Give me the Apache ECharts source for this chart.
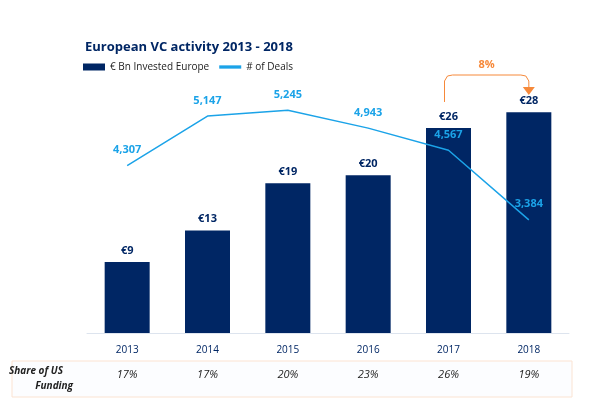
<!DOCTYPE html>
<html><head><meta charset="utf-8">
<script src="https://cdn.jsdelivr.net/npm/echarts@6/dist/echarts.min.js"></script>
<style>html,body{margin:0;padding:0;background:#fff}#chart{width:597px;height:408px}</style>
</head><body><div id="chart"></div>
<script>
var years = ['2013', '2014', '2015', '2016', '2017', '2018'];
var invested = [9, 13, 19, 20, 26, 28];
var deals = [4307, 5147, 5245, 4943, 4567, 3384];
var usShare = ['17%', '17%', '20%', '23%', '26%', '19%'];
var growthLabel = '8%';

var navy = '#002664';
var blue = '#1ba3e8';
var orange = '#f6893a';
var font = 'Open Sans';
var myChart = echarts.init(document.getElementById('chart'));

var option = {
    animation: false,
    title: {
        text: 'European VC activity 2013 - 2018',
        left: 80, top: 36,
        textStyle: {color: navy, fontSize: 13, fontWeight: 'bold', fontFamily: font}
    },
    legend: {
        left: 78, top: 57, itemGap: 10, itemWidth: 22, itemHeight: 7,
        textStyle: {color: '#222', fontSize: 10, fontFamily: font},
        data: [{name: '€ Bn Invested Europe', icon: 'rect'}, {name: '# of Deals', icon: 'path://M0,0H10V1.5H0Z'}]
    },
    grid: {left: 87, right: 28, top: 57, bottom: 75},
    xAxis: [{
        type: 'category', data: years,
        axisLine: {lineStyle: {color: '#dde4ee'}},
        axisTick: {show: false},
        axisLabel: {color: navy, fontSize: 10, margin: 12, fontFamily: font}
    }, {
        type: 'category', data: usShare, position: 'bottom', offset: 28,
        axisLine: {show: false}, axisTick: {show: false},
        axisLabel: {color: '#222', fontSize: 11, fontStyle: 'italic', fontFamily: font}
    }],
    yAxis: [
        {type: 'value', min: 0, max: 35, show: false},
        {type: 'value', min: 1460, max: 6152, show: false}
    ],
    series: [{
        name: '€ Bn Invested Europe', type: 'bar', data: invested, barWidth: 45,
        itemStyle: {color: navy},
        label: {show: true, position: 'top', distance: 6, color: navy, fontWeight: 'bold', fontSize: 11, fontFamily: font,
            formatter: function (p) { return '€' + p.value; }}
    }, {
        name: '# of Deals', type: 'line', yAxisIndex: 1, data: deals, symbol: 'circle', symbolSize: 0.1,
        showSymbol: true, z: 5,
        lineStyle: {color: blue, width: 1.5}, itemStyle: {color: blue},
        label: {show: true, position: 'top', distance: 10, color: blue, fontWeight: 'bold', fontSize: 11, fontFamily: font,
            formatter: function (p) { return p.value.toLocaleString('en-US'); }}
    }]
};
myChart.setOption(option);

var p17 = myChart.convertToPixel({xAxisIndex: 0, yAxisIndex: 0}, [4, invested[4]]);
var p18 = myChart.convertToPixel({xAxisIndex: 0, yAxisIndex: 0}, [5, invested[5]]);
var x1 = p17[0] - 4, x2 = p18[0], yTop = 75;
myChart.setOption({
    graphic: [
        {type: 'rect', shape: {x: 12, y: 361, width: 560, height: 36},
            style: {fill: 'rgba(250,252,255,0.6)', stroke: '#fbe3d2', lineWidth: 1}},
        {type: 'text', style: {x: 63, y: 366, text: 'Share of US', textAlign: 'right', fill: '#222',
            font: 'italic bold 10px "Open Sans"'}},
        {type: 'text', style: {x: 73, y: 381, text: 'Funding', textAlign: 'right', fill: '#222',
            font: 'italic bold 10px "Open Sans"'}},
        {type: 'polyline', shape: {points: [[x1, p17[1] - 26], [x1, yTop + 6], [x1 + 3, yTop + 1], [x1 + 8, yTop],
            [x2 - 8, yTop], [x2 - 3, yTop + 1], [x2, yTop + 6], [x2, yTop + 12]]},
            style: {fill: null, stroke: orange, lineWidth: 1}},
        {type: 'polygon', shape: {points: [[x2 - 6, yTop + 12], [x2 + 6, yTop + 12], [x2, yTop + 20]]},
            style: {fill: orange}},
        {type: 'text', style: {x: (x1 + x2) / 2, y: yTop - 16, text: growthLabel, textAlign: 'center',
            fill: orange, font: 'bold 11px "Open Sans"'}}
    ]
});
</script></body></html>
